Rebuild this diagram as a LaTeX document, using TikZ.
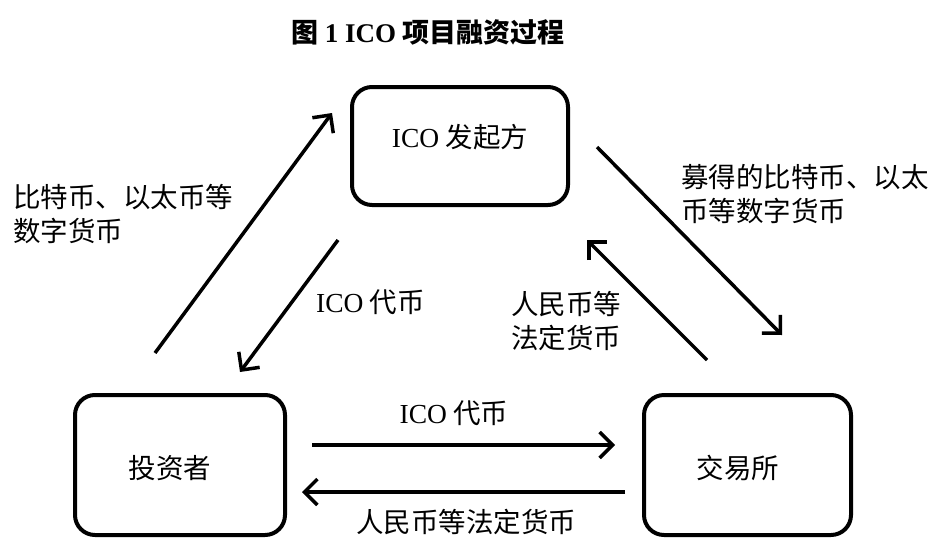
\documentclass[tikz,border=0pt]{standalone}
\usepackage{fontspec}
\setmainfont{Noto Sans CJK SC}
\newfontfamily\lat{Liberation Serif}
\usetikzlibrary{arrows.meta}
\begin{document}
\begin{tikzpicture}[x=1pt,y=-1pt,
  box/.style={draw, line width=4pt, rounded corners=20pt, inner sep=0pt},
  flow/.style={line width=3.5pt, -{Straight Barb[length=13pt,width=26pt,line width=3.5pt]}},
  lbl/.style={inner sep=0pt, font=\fontsize{27.5}{34}\selectfont, align=left},
  ttl/.style={inner sep=0pt, font=\fontsize{27}{34}\selectfont\bfseries}]
\useasboundingbox (0,0) rectangle (933,549);

% title
\node[ttl] (title) at (428,32) {图 {\lat 1 ICO} 项目融资过程};

% boxes
\node[box, minimum width=216pt, minimum height=118pt] (issuer) at (460,146) {};
\node[box, minimum width=210pt, minimum height=140pt] (investor) at (180,465) {};
\node[box, minimum width=207pt, minimum height=140pt] (exchange) at (747.5,465) {};

\node[lbl] (issuertext) at (460,137) {{\lat ICO} 发起方};
\node[lbl] (investortext) at (170,468) {投资者};
\node[lbl] (exchangetext) at (738,468) {交易所};

% arrow end points
\coordinate (a1s) at (155,353);  \coordinate (a1e) at (332,113);
\coordinate (a2s) at (338,240);  \coordinate (a2e) at (240,372);
\coordinate (a3s) at (597,147);  \coordinate (a3e) at (782,335);
\coordinate (a4s) at (707,360);  \coordinate (a4e) at (587,240);
\coordinate (a5s) at (312,445);  \coordinate (a5e) at (615,445);
\coordinate (a6s) at (625,492);  \coordinate (a6e) at (302,492);

\draw[flow] (a1s) -- (a1e);
\draw[flow] (a2s) -- (a2e);
\draw[flow] (a3s) -- (a3e);
\draw[flow] (a4s) -- (a4e);
\draw[flow] (a5s) -- (a5e);
\draw[flow] (a6s) -- (a6e);

% labels
\node[lbl, anchor=west] (l1) at (13,214) {比特币、以太币等\\数字货币};
\node[lbl, anchor=west] (l2) at (316,302) {{\lat ICO} 代币};
\node[lbl, anchor=west] (l3) at (511,321) {人民币等\\法定货币};
\node[lbl, anchor=west] (l4) at (681,194) {募得的比特币、以太\\币等数字货币};
\node[lbl] (l5) at (454,413) {{\lat ICO} 代币};
\node[lbl] (l6) at (466,522) {人民币等法定货币};
\end{tikzpicture}
\end{document}
